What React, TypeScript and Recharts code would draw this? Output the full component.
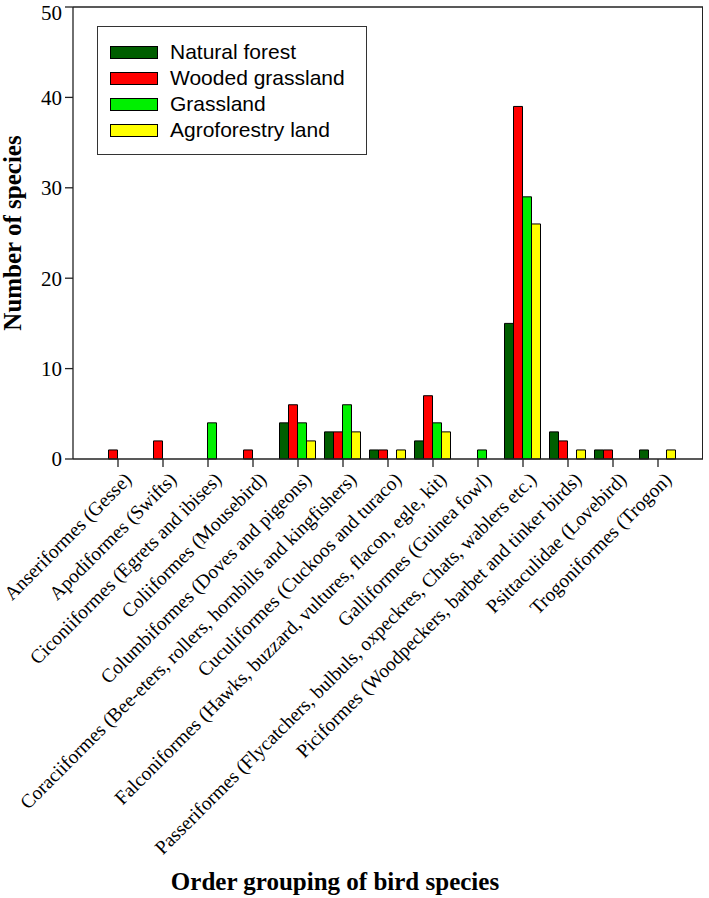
import {
  BarChart,
  Bar,
  XAxis,
  YAxis,
  Label,
  Legend,
  ReferenceLine,
} from 'recharts'

const orders = [
  'Anseriformes (Gesse)',
  'Apodiformes (Swifts)',
  'Ciconiiformes (Egrets and ibises)',
  'Coliiformes (Mousebird)',
  'Columbiformes (Doves and pigeons)',
  'Coraciiformes (Bee-eters, rollers, hornbills and kingfishers)',
  'Cuculiformes (Cuckoos and turaco)',
  'Falconiformes (Hawks, buzzard, vultures, flacon, egle, kit)',
  'Galliformes (Guinea fowl)',
  'Passeriformes (Flycatchers, bulbuls, oxpeckres, Chats, wablers etc.)',
  'Piciformes (Woodpeckers, barbet and tinker birds)',
  'Psittaculidae (Lovebird)',
  'Trogoniformes (Trogon)',
]

const naturalForest = [0, 0, 0, 0, 4, 3, 1, 2, 0, 15, 3, 1, 1]
const woodedGrassland = [1, 2, 0, 1, 6, 3, 1, 7, 0, 39, 2, 1, 0]
const grassland = [0, 0, 4, 0, 4, 6, 0, 4, 1, 29, 0, 0, 0]
const agroforestry = [0, 0, 0, 0, 2, 3, 1, 3, 0, 26, 1, 0, 1]

const yTicks = [0, 10, 20, 30, 40, 50]

const seriesInfo = [
  { key: 'nf', name: 'Natural forest', color: '#005e00' },
  { key: 'wg', name: 'Wooded grassland', color: '#ff0000' },
  { key: 'g', name: 'Grassland', color: '#00f000' },
  { key: 'af', name: 'Agroforestry land', color: '#ffff00' },
]

const data = orders.map((name, i) => ({
  name,
  nf: naturalForest[i],
  wg: woodedGrassland[i],
  g: grassland[i],
  af: agroforestry[i],
}))

const serif = '"Liberation Serif", "Times New Roman", serif'
const sans = '"Liberation Sans", Arial, sans-serif'

function OrderTick(props: any) {
  const { x, y, payload } = props
  return (
    <text
      x={x + 5}
      y={y + 2}
      transform={`rotate(-45, ${x + 5}, ${y + 2})`}
      textAnchor="end"
      dy="0.7em"
      fontFamily={serif}
      fontSize={19.5}
      fill="#000"
    >
      {payload.value}
    </text>
  )
}

function LegendBox() {
  return (
    <div
      style={{
        position: 'absolute',
        left: 97,
        top: 26,
        width: 268,
        height: 127,
        border: '1px solid #333',
        background: '#fff',
        fontFamily: sans,
        fontSize: 21,
        color: '#000',
        boxSizing: 'content-box',
      }}
    >
      {seriesInfo.map((s, i) => (
        <div
          key={s.key}
          style={{
            position: 'absolute',
            left: 12,
            top: 12 + i * 26,
            height: 26,
            display: 'flex',
            alignItems: 'center',
            whiteSpace: 'nowrap',
          }}
        >
          <span
            style={{
              display: 'inline-block',
              width: 46,
              height: 11,
              background: s.color,
              border: '1px solid #000',
              marginRight: 12,
            }}
          />
          <span>{s.name}</span>
        </div>
      ))}
    </div>
  )
}

export default function App() {
  return (
    <div style={{ position: 'absolute', left: 0, top: 0, width: 709, height: 898, background: '#fff' }}>
      <BarChart
        width={709}
        height={898}
        data={data}
        margin={{ top: 7, right: 6, left: 0, bottom: 0 }}
        barCategoryGap={4}
        barGap={0}
      >
        <XAxis
          dataKey="name"
          interval={0}
          height={439}
          padding={{ left: 22.5, right: 22.5 }}
          tick={<OrderTick />}
          tickSize={8}
          axisLine={{ stroke: '#222', strokeWidth: 1.3 }}
          tickLine={{ stroke: '#222', strokeWidth: 1.3 }}
        >
          <Label
            value="Order grouping of bird species"
            position="insideBottom"
            offset={8}
            dx={-53}
            style={{ fontFamily: serif, fontSize: 25, fontWeight: 'bold', fill: '#000' }}
          />
        </XAxis>
        <YAxis
          width={73}
          domain={[0, 50]}
          ticks={yTicks}
          tickSize={8}
          tickMargin={3}
          axisLine={{ stroke: '#222', strokeWidth: 1.3 }}
          tickLine={{ stroke: '#222', strokeWidth: 1.3 }}
          tick={{ fontFamily: serif, fontSize: 21, fill: '#000' }}
        >
          <Label
            value="Number of species"
            angle={-90}
            position="insideLeft"
            offset={12}
            style={{ fontFamily: serif, fontSize: 25, fontWeight: 'bold', fill: '#000', textAnchor: 'middle' }}
          />
        </YAxis>
        <ReferenceLine y={50} stroke="#222" strokeWidth={1.3} />
        <Legend content={<LegendBox />} wrapperStyle={{ left: 0, top: 0, width: 0, height: 0 }} />
        {seriesInfo.map(s => (
          <Bar
            key={s.key}
            dataKey={s.key}
            name={s.name}
            fill={s.color}
            stroke="#000"
            strokeWidth={1}
            isAnimationActive={false}
          />
        ))}
      </BarChart>
      {/* right side of the plot frame */}
      <div
        style={{
          position: 'absolute',
          left: 702,
          top: 7,
          width: 0,
          height: 452,
          borderLeft: '1.3px solid #222',
          pointerEvents: 'none',
        }}
      />
    </div>
  )
}
